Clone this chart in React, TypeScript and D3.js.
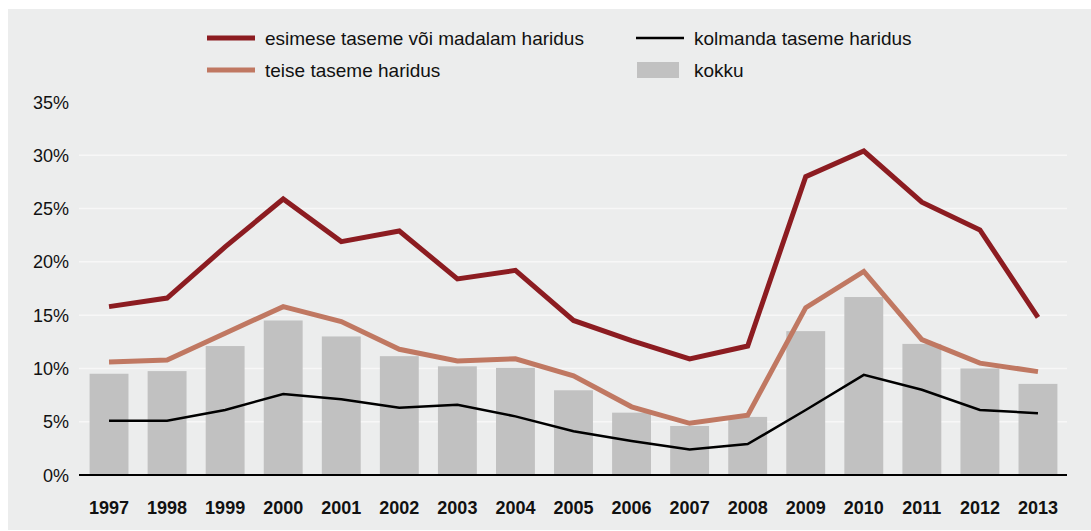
import React from "react";
import * as d3 from "d3";

const years = ["1997","1998","1999","2000","2001","2002","2003","2004","2005","2006","2007","2008","2009","2010","2011","2012","2013"];
const esimese = [15.8,16.6,21.4,25.9,21.9,22.9,18.4,19.2,14.5,12.6,10.9,12.1,28.0,30.4,25.6,23.0,14.8];
const teise = [10.6,10.8,13.3,15.8,14.4,11.8,10.7,10.9,9.3,6.4,4.85,5.6,15.7,19.1,12.7,10.5,9.7];
const kolmanda = [5.1,5.1,6.1,7.6,7.1,6.3,6.6,5.5,4.1,3.2,2.4,2.9,6.1,9.4,8.0,6.1,5.8];
const kokku = [9.5,9.75,12.1,14.5,13.0,11.15,10.2,10.05,7.95,5.85,4.6,5.45,13.5,16.7,12.3,10.0,8.55];
const yTicks = [0,5,10,15,20,25,30,35];

const legendItems = [
  { label: "esimese taseme või madalam haridus", kind: "line", color: "#8c1c21", w: 5 },
  { label: "kolmanda taseme haridus", kind: "line", color: "#000000", w: 2.5 },
  { label: "teise taseme haridus", kind: "line", color: "#c07862", w: 5 },
  { label: "kokku", kind: "box", color: "#c1c1c1", w: 0 },
];

export default function App() {
  const W = 1091, H = 531;
  const x = d3.scaleBand<string>().domain(years).range([80, 1067]).paddingInner(0.33).paddingOuter(0.165);
  const y = d3.scaleLinear().domain([0, 35]).range([475, 102]);
  const cx = (yr: string) => (x(yr) as number) + x.bandwidth() / 2;
  const line = d3.line<number>().x((_, i) => cx(years[i])).y((v) => y(v));
  const font = "'Liberation Sans', Arial, Helvetica, sans-serif";
  const legendPos = [
    { x: 207, y: 38 }, { x: 636, y: 38 }, { x: 207, y: 70 }, { x: 636, y: 70 },
  ];
  return (
    <svg width={W} height={H} style={{ position: "absolute", left: 0, top: 0 }} fontFamily={font}>
      <rect x={8} y={9} width={W - 8} height={521} fill="#eceded" />
      {yTicks.filter((t) => t > 0 && t < 35).map((t) => (
        <line key={t} x1={79} x2={1067} y1={y(t)} y2={y(t)} stroke="#f7f7f7" strokeWidth={1.5} />
      ))}
      {yTicks.map((t) => (
        <text key={t} x={69} y={y(t) + 6.5} textAnchor="end" fontSize={18} fill="#111">{t}%</text>
      ))}
      {years.map((yr, i) => (
        <rect key={yr} x={x(yr)} y={y(kokku[i])} width={x.bandwidth()} height={y(0) - y(kokku[i])} fill="#c1c1c1" />
      ))}
      <path d={line(kolmanda) || ""} fill="none" stroke="#000" strokeWidth={2.5} />
      <path d={line(teise) || ""} fill="none" stroke="#c07862" strokeWidth={5} />
      <path d={line(esimese) || ""} fill="none" stroke="#8c1c21" strokeWidth={5} />
      <line x1={79} x2={1067} y1={y(0)} y2={y(0)} stroke="#000" strokeWidth={2} />
      {years.map((yr) => (
        <text key={yr} x={cx(yr)} y={514} textAnchor="middle" fontSize={18} fontWeight="bold" fill="#111">{yr}</text>
      ))}
      {legendItems.map((it, i) => {
        const p = legendPos[i];
        return (
          <g key={it.label}>
            {it.kind === "line" ? (
              <line x1={p.x} x2={p.x + 48} y1={p.y} y2={p.y} stroke={it.color} strokeWidth={it.w} />
            ) : (
              <rect x={p.x + 1} y={p.y - 8} width={42} height={16} fill={it.color} />
            )}
            <text x={p.x + 58} y={p.y + 6.5} fontSize={19} fill="#111">{it.label}</text>
          </g>
        );
      })}
    </svg>
  );
}
